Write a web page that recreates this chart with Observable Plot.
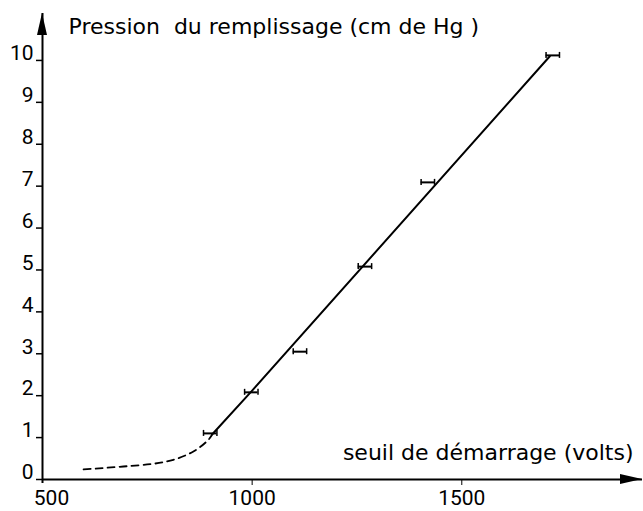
<!DOCTYPE html>
<html><head><meta charset="utf-8">
<script src="https://cdn.jsdelivr.net/npm/d3@7"></script>
<script src="https://cdn.jsdelivr.net/npm/@observablehq/plot@0.6"></script>
<style>body{margin:0;background:#fff}</style>
</head><body><div id="chart"></div>
<script>
// Measured points with horizontal error bars
const pointVolts = [900, 998, 1114, 1269, 1419, 1717];
const pointPressure = [1.10, 2.08, 3.05, 5.08, 7.09, 10.12];
const errorVolts = [16, 16, 16, 16, 16, 16];
// Straight fitted line
const fitVolts = [905, 1000, 1710];
const fitPressure = [1.08, 2.12, 10.1];
// Dashed low-pressure extrapolation
const dashVolts = [598, 693, 760, 812, 860, 893, 905];
const dashPressure = [0.24, 0.31, 0.37, 0.47, 0.67, 0.92, 1.08];
// Ticks and labels
const xTicks = [500, 1000, 1500];
const yTicks = [0, 1, 2, 3, 4, 5, 6, 7, 8, 9, 10];
const title = "Pression  du remplissage (cm de Hg )";
const xLabel = "seuil de démarrage (volts)";

const points = pointVolts.map((v, i) => ({v, p: pointPressure[i], e: errorVolts[i]}));
const fit = fitVolts.map((v, i) => ({v, p: fitPressure[i]}));
const dash = dashVolts.map((v, i) => ({v, p: dashPressure[i]}));

function arrowHeads(index, scales, values, dimensions) {
  const {width, marginTop, marginRight} = dimensions;
  const x0 = scales.x(xTicks[0]);
  const y0 = scales.y(yTicks[0]);
  const xEnd = width - marginRight;
  const yEnd = marginTop;
  const g = d3.create("svg:g").attr("fill", "black");
  g.append("path").attr("d", `M${xEnd},${y0}L${xEnd - 22},${y0 - 5}L${xEnd - 22},${y0 + 5}Z`);
  g.append("path").attr("d", `M${x0},${yEnd}L${x0 - 5},${yEnd + 22}L${x0 + 5},${yEnd + 22}Z`);
  return g.node();
}

const FS = 22;   // labels
const TS = 21;   // tick labels
const fmt = d => String(d);
const chart = Plot.plot({
  width: 643,
  height: 511,
  marginLeft: 42,
  marginRight: 1,
  marginTop: 13,
  marginBottom: 32,
  style: {fontFamily: "DejaVu Sans", fontSize: FS + "px", color: "black", background: "white"},
  x: {domain: [500, 1931]},
  y: {domain: [0, 11.12]},
  marks: [
    Plot.ruleY([0], {strokeWidth: 2}),
    Plot.ruleX([500], {strokeWidth: 2, insetBottom: -4}),
    Plot.axisX(xTicks.slice(1), {tickSize: 6, tickPadding: 5, label: null, tickFormat: fmt, fontSize: TS, fontFamily: "Roboto"}),
    Plot.axisX(xTicks.slice(0, 1), {tickSize: 0, tickPadding: 11, dx: 9, label: null, tickFormat: fmt, fontSize: TS, fontFamily: "Roboto"}),
    Plot.axisY(yTicks, {tickSize: 6, fill: "none", label: null, strokeWidth: 1.5}),
    Plot.axisY(yTicks, {tickSize: 0, tickPadding: 9, dy: -7, label: null, tickFormat: fmt, fontSize: TS, fontFamily: "Roboto"}),
    Plot.line(dash, {x: "v", y: "p", curve: "natural", strokeDasharray: "7,5", strokeWidth: 1.8}),
    Plot.line(fit, {x: "v", y: "p", strokeWidth: 2}),
    Plot.ruleY(points, {y: "p", x1: d => d.v - d.e, x2: d => d.v + d.e, strokeWidth: 2}),
    Plot.ruleX(points, {x: d => d.v - d.e, y1: "p", y2: "p", insetTop: -3, insetBottom: -3, strokeWidth: 1.5}),
    Plot.ruleX(points, {x: d => d.v + d.e, y1: "p", y2: "p", insetTop: -3, insetBottom: -3, strokeWidth: 1.5}),
    Plot.text([title], {frameAnchor: "top-left", textAnchor: "start", lineAnchor: "bottom", dx: 26, dy: 20, fontSize: FS}),
    Plot.text([xLabel], {frameAnchor: "bottom-right", textAnchor: "end", lineAnchor: "bottom", dx: -9, dy: -20, fontSize: FS}),
    arrowHeads
  ]
});
document.getElementById("chart").append(chart);
</script>
</body></html>
